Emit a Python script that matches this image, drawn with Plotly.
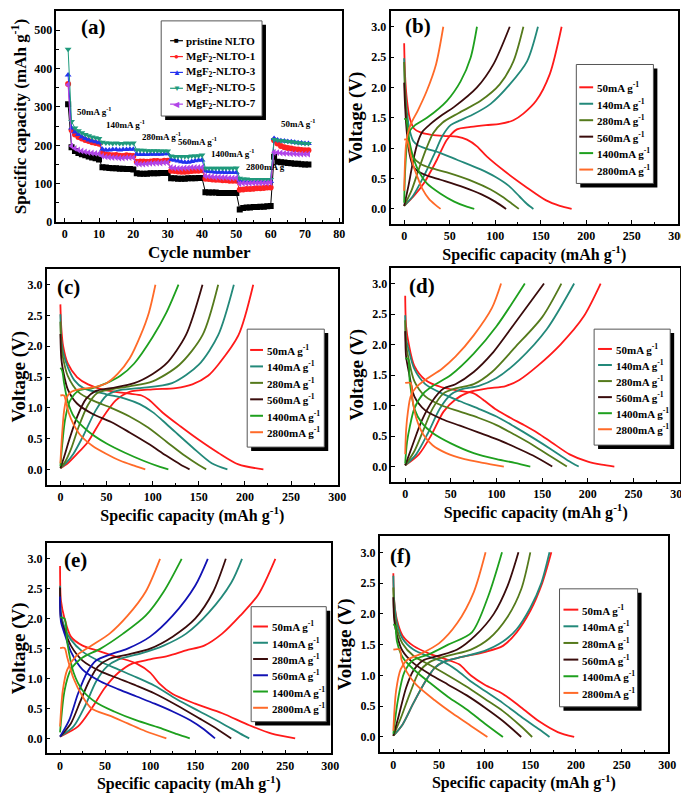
import plotly.graph_objects as go

W, H = 689, 794
SERIF = "Liberation Serif"

# ---------- panel (a): rate capability ----------
cycles = list(range(1, 72))
cap_pristine = [307,
                195, 185, 180, 177, 174, 171, 168, 166, 163,
                143, 142, 141, 140, 140, 139, 139, 138, 138, 137,
                127, 126, 126, 126, 127, 127, 127, 128, 128, 128,
                114, 114, 113, 113, 113, 114, 114, 114, 115, 115,
                78, 77, 77, 77, 76, 76, 76, 76, 76, 76,
                33, 37, 38, 38, 39, 39, 40, 40, 41, 42,
                170, 157, 156, 155, 154, 153, 152, 152, 151, 150, 150]
cap_mgf1 = [360,
            240, 228, 222, 218, 214, 211, 208, 206, 204,
            180, 176, 175, 174, 175, 173, 172, 174, 173, 172,
            157, 158, 158, 157, 158, 159, 159, 158, 160, 160,
            134, 133, 132, 131, 131, 132, 133, 134, 134, 135,
            113, 112, 111, 110, 110, 109, 109, 108, 108, 108,
            84, 85, 86, 86, 87, 88, 88, 89, 90, 90,
            213, 205, 198, 195, 193, 192, 190, 189, 188, 187, 187]
cap_mgf3 = [383,
            245, 235, 228, 222, 218, 214, 211, 209, 207,
            190, 188, 188, 189, 189, 188, 189, 189, 190, 190,
            177, 176, 176, 176, 177, 177, 177, 177, 178, 178,
            163, 161, 159, 157, 156, 156, 158, 160, 161, 162,
            133, 132, 131, 130, 130, 130, 129, 129, 129, 129,
            108, 106, 105, 105, 105, 105, 105, 105, 105, 106,
            218, 214, 212, 211, 210, 209, 208, 207, 206, 205, 205]
cap_mgf5 = [450,
            262, 245, 238, 233, 228, 225, 222, 220, 218,
            208, 206, 206, 205, 206, 205, 205, 206, 205, 206,
            188, 187, 187, 186, 186, 186, 186, 185, 185, 185,
            172, 171, 171, 171, 171, 171, 172, 172, 173, 175,
            140, 140, 140, 140, 140, 140, 140, 140, 140, 141,
            114, 112, 112, 111, 111, 111, 111, 111, 111, 111,
            215, 213, 212, 211, 210, 209, 208, 207, 206, 205, 205]
cap_mgf7 = [358,
            198, 192, 188, 185, 183, 181, 180, 179, 178,
            172, 170, 169, 168, 168, 167, 167, 168, 168, 168,
            152, 151, 151, 152, 153, 153, 154, 154, 155, 155,
            142, 141, 140, 140, 141, 141, 142, 142, 142, 142,
            120, 119, 118, 117, 117, 116, 116, 115, 115, 115,
            100, 101, 101, 101, 102, 102, 102, 102, 102, 103,
            182, 181, 180, 179, 179, 178, 178, 177, 177, 177, 177]
series_a = ["pristine NLTO", "MgF<sub>2</sub>-NLTO-1", "MgF<sub>2</sub>-NLTO-3",
            "MgF<sub>2</sub>-NLTO-5", "MgF<sub>2</sub>-NLTO-7"]
rate_labels_a = ["50mA g<sup>-1</sup>", "140mA g<sup>-1</sup>", "280mA g<sup>-1</sup>",
                 "560mA g<sup>-1</sup>", "1400mA g<sup>-1</sup>", "2800mA g<sup>-1</sup>",
                 "50mA g<sup>-1</sup>"]

# ---------- panels (b)-(f): voltage profiles (cap, V) ----------
rates = ["50", "140", "280", "560", "1400", "2800"]

b_dis = {
    "50": ([0, 1, 3, 6, 11, 18, 30, 45, 58, 69, 80, 91, 113, 135, 156, 171, 184],
           [2.73, 2.2, 1.8, 1.5, 1.32, 1.26, 1.22, 1.2, 1.19, 1.14, 1.03, 0.86, 0.59, 0.35, 0.14, 0.05, 0]),
    "140": ([0, 1, 3, 6, 10, 15, 25, 40, 58, 84, 100, 115, 127, 135, 142],
            [2.48, 2.0, 1.6, 1.3, 1.12, 1.05, 0.99, 0.92, 0.81, 0.65, 0.53, 0.38, 0.2, 0.08, 0]),
    "280": ([0, 1, 3, 6, 10, 18, 30, 47, 76, 95, 108, 118, 126],
            [2.42, 1.9, 1.4, 1.05, 0.85, 0.74, 0.67, 0.6, 0.45, 0.32, 0.2, 0.09, 0]),
    "560": ([0, 1, 3, 6, 10, 15, 25, 40, 65, 85, 100, 112],
            [2.08, 1.7, 1.25, 0.9, 0.7, 0.62, 0.55, 0.48, 0.36, 0.24, 0.12, 0]),
    "1400": ([0, 2, 4, 6, 9, 15, 25, 40, 55, 68, 77],
             [1.48, 1.48, 1.3, 1.1, 0.9, 0.65, 0.42, 0.25, 0.12, 0.04, 0]),
    "2800": ([0, 3, 5, 7, 10, 14, 20, 27, 34, 40],
             [1.14, 1.14, 1.05, 0.9, 0.72, 0.55, 0.33, 0.17, 0.07, 0]),
}
b_chg = {
    "50": ([0, 10, 22, 36, 47, 58, 73, 90, 105, 120, 131, 145, 160, 173],
           [0.05, 0.2, 0.43, 0.81, 1.14, 1.31, 1.35, 1.38, 1.4, 1.46, 1.57, 1.78, 2.22, 3.0]),
    "140": ([0, 10, 22, 33, 42, 51, 60, 75, 95, 116, 135, 147],
            [0.05, 0.22, 0.55, 0.9, 1.2, 1.38, 1.45, 1.55, 1.73, 2.05, 2.43, 3.0]),
    "280": ([0, 8, 16, 24, 32, 42, 60, 84, 105, 120, 131],
            [0.05, 0.3, 0.65, 0.98, 1.25, 1.42, 1.58, 1.78, 2.05, 2.43, 3.0]),
    "560": ([0, 5, 10, 15, 20, 29, 42, 55, 80, 98, 116],
            [0.05, 0.4, 0.8, 1.1, 1.27, 1.4, 1.55, 1.68, 2.0, 2.38, 3.0]),
    "1400": ([0, 1, 3, 6, 12, 25, 47, 62, 73, 80],
             [0.1, 0.6, 1.05, 1.28, 1.38, 1.5, 1.78, 2.1, 2.49, 3.0]),
    "2800": ([0, 1, 2, 4, 8, 15, 25, 35, 43],
             [0.3, 0.8, 1.05, 1.24, 1.42, 1.62, 1.95, 2.38, 3.0]),
}

c_dis = {
    "50": ([0, 1, 3, 8, 18, 30, 45, 60, 75, 88, 96, 111, 130, 150, 171, 193, 220],
           [2.68, 2.3, 2.0, 1.72, 1.5, 1.38, 1.3, 1.26, 1.23, 1.2, 1.13, 0.92, 0.7, 0.48, 0.27, 0.08, 0]),
    "140": ([0, 1, 3, 8, 15, 25, 50, 70, 86, 100, 111, 125, 143, 164, 181],
            [2.52, 2.1, 1.9, 1.66, 1.45, 1.32, 1.22, 1.15, 1.06, 0.93, 0.79, 0.6, 0.36, 0.1, 0]),
    "280": ([0, 1, 3, 8, 20, 35, 55, 75, 95, 115, 135, 150, 158],
            [2.4, 2.0, 1.8, 1.52, 1.25, 1.12, 1.0, 0.86, 0.68, 0.45, 0.22, 0.07, 0]),
    "560": ([0, 1, 3, 8, 18, 35, 55, 75, 95, 115, 130, 140],
            [2.2, 1.8, 1.6, 1.3, 1.07, 0.9, 0.77, 0.6, 0.42, 0.22, 0.08, 0]),
    "1400": ([0, 2, 4, 8, 15, 30, 50, 70, 90, 108, 117],
             [1.65, 1.6, 1.4, 1.1, 0.85, 0.62, 0.42, 0.27, 0.14, 0.04, 0]),
    "2800": ([0, 4, 6, 9, 14, 22, 35, 50, 65, 80, 92],
             [1.2, 1.2, 1.1, 0.92, 0.74, 0.55, 0.38, 0.25, 0.14, 0.06, 0]),
}
c_chg = {
    "50": ([0, 8, 18, 30, 45, 60, 75, 100, 125, 143, 160, 171, 193, 209],
           [0.02, 0.1, 0.25, 0.45, 0.82, 1.12, 1.26, 1.3, 1.32, 1.38, 1.52, 1.7, 2.18, 3.0]),
    "140": ([0, 6, 14, 25, 38, 50, 62, 85, 121, 150, 171, 188],
            [0.02, 0.1, 0.25, 0.55, 0.95, 1.2, 1.28, 1.32, 1.4, 1.7, 2.18, 3.0]),
    "280": ([0, 5, 12, 20, 30, 40, 55, 75, 100, 129, 154, 171],
            [0.02, 0.12, 0.35, 0.7, 1.05, 1.24, 1.3, 1.35, 1.43, 1.7, 2.18, 3.0]),
    "560": ([0, 4, 10, 18, 28, 38, 55, 80, 100, 115, 136, 154],
            [0.02, 0.2, 0.5, 0.85, 1.15, 1.27, 1.32, 1.4, 1.55, 1.72, 2.18, 3.0]),
    "1400": ([0, 2, 5, 10, 20, 35, 50, 65, 80, 100, 115, 128],
             [0.05, 0.4, 0.8, 1.1, 1.28, 1.32, 1.4, 1.52, 1.72, 2.15, 2.55, 3.0]),
    "2800": ([0, 2, 4, 7, 12, 20, 35, 50, 62, 75, 87, 96, 103],
             [0.1, 0.6, 0.95, 1.17, 1.26, 1.3, 1.33, 1.4, 1.55, 1.8, 2.18, 2.55, 3.0]),
}

d_dis = {
    "50": ([0, 1, 4, 10, 22, 40, 60, 75, 85, 100, 115, 130, 145, 160, 180, 200, 215, 229],
           [2.8, 2.3, 2.0, 1.65, 1.42, 1.3, 1.24, 1.2, 1.1, 0.93, 0.8, 0.68, 0.55, 0.4, 0.2, 0.08, 0.03, 0]),
    "140": ([0, 1, 4, 10, 22, 40, 60, 80, 100, 120, 140, 160, 178, 190],
            [2.48, 2.1, 1.9, 1.6, 1.35, 1.2, 1.07, 0.95, 0.82, 0.65, 0.47, 0.28, 0.1, 0]),
    "280": ([0, 1, 4, 10, 22, 40, 60, 80, 100, 120, 140, 160, 177],
            [2.4, 2.0, 1.75, 1.4, 1.15, 1.0, 0.9, 0.8, 0.68, 0.52, 0.35, 0.16, 0]),
    "560": ([0, 1, 4, 10, 22, 40, 60, 80, 100, 120, 140, 161],
            [2.22, 1.8, 1.55, 1.15, 0.92, 0.78, 0.67, 0.56, 0.45, 0.32, 0.18, 0]),
    "1400": ([0, 3, 5, 10, 18, 30, 50, 75, 100, 120, 137],
             [1.77, 1.77, 1.4, 0.95, 0.72, 0.55, 0.38, 0.22, 0.12, 0.06, 0]),
    "2800": ([0, 6, 8, 12, 20, 30, 45, 65, 85, 108],
             [1.37, 1.37, 1.1, 0.8, 0.52, 0.35, 0.22, 0.12, 0.06, 0]),
}
d_chg = {
    "50": ([0, 15, 28, 42, 55, 70, 90, 110, 125, 145, 170, 195, 214],
           [0.02, 0.2, 0.5, 0.9, 1.1, 1.22, 1.28, 1.32, 1.42, 1.65, 2.0, 2.45, 3.0]),
    "140": ([0, 12, 25, 38, 50, 62, 80, 100, 125, 155, 185],
            [0.02, 0.2, 0.55, 0.95, 1.18, 1.27, 1.32, 1.45, 1.75, 2.25, 3.0]),
    "280": ([0, 10, 20, 30, 42, 55, 75, 95, 120, 150, 171],
            [0.02, 0.25, 0.6, 0.95, 1.2, 1.28, 1.35, 1.55, 1.95, 2.45, 3.0]),
    "560": ([0, 8, 18, 30, 42, 55, 75, 95, 120, 152],
            [0.02, 0.35, 0.75, 1.08, 1.28, 1.35, 1.55, 1.85, 2.35, 3.0]),
    "1400": ([0, 2, 5, 10, 20, 30, 50, 75, 100, 131],
             [0.05, 0.4, 0.65, 0.95, 1.2, 1.32, 1.5, 1.85, 2.3, 3.0]),
    "2800": ([0, 1, 3, 6, 12, 25, 40, 55, 75, 95, 105],
             [0.2, 0.6, 0.9, 1.15, 1.3, 1.45, 1.6, 1.8, 2.15, 2.6, 3.0]),
}

e_dis = {
    "50": ([0, 1, 5, 12, 25, 45, 65, 85, 100, 110, 125, 150, 180, 210, 235, 261],
           [2.88, 2.3, 2.0, 1.7, 1.55, 1.45, 1.35, 1.25, 1.1, 0.92, 0.74, 0.58, 0.42, 0.22, 0.08, 0]),
    "140": ([0, 1, 5, 12, 25, 45, 65, 85, 105, 130, 155, 180, 200, 210],
            [2.55, 2.1, 1.85, 1.65, 1.45, 1.28, 1.15, 1.02, 0.88, 0.65, 0.45, 0.25, 0.08, 0]),
    "280": ([0, 1, 5, 12, 25, 45, 65, 85, 105, 130, 155, 175, 190],
            [2.52, 2.0, 1.8, 1.55, 1.3, 1.12, 1.0, 0.88, 0.75, 0.55, 0.33, 0.15, 0]),
    "560": ([0, 1, 5, 12, 25, 45, 65, 85, 105, 125, 145, 160, 172],
            [2.37, 1.95, 1.75, 1.45, 1.15, 0.95, 0.82, 0.7, 0.58, 0.45, 0.3, 0.15, 0]),
    "1400": ([0, 5, 8, 15, 25, 40, 60, 85, 110, 130, 144],
             [2.02, 2.0, 1.6, 1.1, 0.8, 0.6, 0.45, 0.3, 0.18, 0.07, 0]),
    "2800": ([0, 5, 8, 15, 25, 35, 55, 75, 95, 118],
             [1.51, 1.51, 1.35, 1.0, 0.7, 0.5, 0.38, 0.25, 0.12, 0]),
}
e_chg = {
    "50": ([0, 20, 35, 50, 65, 80, 100, 120, 140, 160, 180, 200, 220, 239],
           [0.03, 0.2, 0.5, 0.85, 1.1, 1.25, 1.32, 1.38, 1.47, 1.55, 1.75, 2.05, 2.4, 3.0]),
    "140": ([0, 15, 28, 40, 52, 65, 90, 115, 140, 165, 190, 202],
            [0.03, 0.2, 0.55, 0.95, 1.2, 1.32, 1.42, 1.55, 1.75, 2.1, 2.6, 3.0]),
    "280": ([0, 12, 22, 32, 42, 55, 75, 100, 125, 150, 170, 184],
            [0.03, 0.25, 0.6, 0.95, 1.2, 1.33, 1.4, 1.5, 1.7, 2.0, 2.45, 3.0]),
    "560": ([0, 10, 20, 30, 40, 55, 75, 100, 125, 150, 164],
            [0.03, 0.3, 0.75, 1.1, 1.3, 1.4, 1.5, 1.7, 2.05, 2.55, 3.0]),
    "1400": ([0, 5, 12, 25, 45, 70, 95, 115, 135],
             [0.1, 0.8, 1.15, 1.35, 1.5, 1.75, 2.05, 2.45, 3.0]),
    "2800": ([0, 3, 8, 18, 35, 55, 75, 95, 111],
             [0.2, 0.8, 1.15, 1.38, 1.55, 1.75, 2.05, 2.45, 3.0]),
}

f_dis = {
    "50": ([0, 1, 4, 10, 22, 40, 60, 72, 85, 100, 120, 140, 160, 180, 198],
           [2.66, 2.2, 1.9, 1.65, 1.48, 1.35, 1.25, 1.18, 1.0, 0.85, 0.7, 0.48, 0.25, 0.08, 0]),
    "140": ([0, 1, 4, 10, 22, 40, 55, 70, 85, 100, 120, 140, 160, 171],
            [2.62, 2.2, 1.85, 1.6, 1.42, 1.3, 1.22, 1.08, 0.9, 0.75, 0.55, 0.33, 0.12, 0]),
    "280": ([0, 1, 4, 10, 22, 40, 60, 80, 100, 120, 140, 152],
            [2.43, 2.0, 1.75, 1.52, 1.32, 1.17, 1.0, 0.82, 0.62, 0.42, 0.17, 0]),
    "560": ([0, 1, 4, 10, 22, 40, 60, 80, 100, 120, 140],
            [2.27, 1.9, 1.65, 1.4, 1.2, 1.02, 0.85, 0.68, 0.48, 0.26, 0]),
    "1400": ([0, 2, 4, 10, 22, 40, 60, 80, 100, 120],
             [1.83, 1.8, 1.55, 1.3, 1.1, 0.88, 0.65, 0.45, 0.22, 0]),
    "2800": ([0, 7, 9, 15, 25, 45, 65, 85, 103],
             [1.42, 1.42, 1.25, 1.05, 0.85, 0.6, 0.38, 0.18, 0]),
}
f_chg = {
    "50": ([0, 10, 22, 35, 45, 55, 75, 100, 120, 135, 150, 163, 173],
           [0.02, 0.2, 0.55, 0.9, 1.12, 1.22, 1.3, 1.38, 1.48, 1.7, 2.05, 2.5, 3.0]),
    "140": ([0, 10, 22, 35, 45, 55, 75, 100, 120, 135, 150, 162, 171],
            [0.02, 0.2, 0.55, 0.9, 1.12, 1.22, 1.3, 1.4, 1.55, 1.75, 2.1, 2.5, 3.0]),
    "280": ([0, 8, 18, 28, 40, 60, 85, 105, 125, 140, 150],
            [0.02, 0.3, 0.7, 1.05, 1.22, 1.32, 1.42, 1.6, 1.95, 2.4, 3.0]),
    "560": ([0, 6, 14, 22, 32, 50, 70, 90, 110, 125, 137],
            [0.02, 0.35, 0.8, 1.08, 1.24, 1.32, 1.42, 1.65, 2.0, 2.45, 3.0]),
    "1400": ([0, 5, 12, 22, 40, 60, 86, 104, 119],
             [0.05, 0.6, 1.05, 1.25, 1.35, 1.5, 1.7, 2.29, 3.0]),
    "2800": ([0, 3, 8, 15, 30, 50, 70, 88, 101],
             [0.1, 0.75, 1.1, 1.25, 1.35, 1.52, 1.85, 2.35, 3.0]),
}

# ---------- styling ----------
colors_std = ["#ff1a1a", "#23897a", "#557a1c", "#3a0c0c", "#1ea01e", "#ff6a28"]
colors_e = ["#ff1a1a", "#23897a", "#3a0c0c", "#1212b4", "#1ea01e", "#ff6a28"]
colors_a = ["#000000", "#ff2222", "#2233ee", "#1f9a7c", "#b044e8"]
symbols_a = ["square", "circle", "triangle-up", "triangle-down", "triangle-left"]
glyphs_a = ["■", "●", "▲", "▼", "◀"]


def px(x):
    return x / W


def py(y):
    return 1 - y / H


fig = go.Figure()

# panel (a)
for name, vals, col, sym in zip(series_a, [cap_pristine, cap_mgf1, cap_mgf3, cap_mgf5, cap_mgf7],
                                colors_a, symbols_a):
    fig.add_trace(go.Scatter(x=cycles, y=vals, mode="lines+markers", name=name,
                             line=dict(color=col, width=1),
                             marker=dict(symbol=sym, size=6, color=col),
                             xaxis="x", yaxis="y", showlegend=False))

panels = [
    ("b", "2", b_dis, b_chg, colors_std),
    ("c", "3", c_dis, c_chg, colors_std),
    ("d", "4", d_dis, d_chg, colors_std),
    ("e", "5", e_dis, e_chg, colors_e),
    ("f", "6", f_dis, f_chg, colors_std),
]
for key, ax, dis, chg, cols in panels:
    for r, col in zip(rates, cols):
        for curve in (dis[r], chg[r]):
            fig.add_trace(go.Scatter(x=curve[0], y=curve[1], mode="lines",
                                     line=dict(color=col, width=1.8, shape="spline", smoothing=0.8),
                                     xaxis="x" + ax, yaxis="y" + ax, showlegend=False,
                                     hoverinfo="skip"))

# ---------- axes ----------
tickfont = dict(family=SERIF, size=12, color="black", weight="bold")


def axis(dom, rng, dtick, minor, anchor, title, tsize, standoff, fmt=None):
    a = dict(domain=dom, range=rng, dtick=dtick, anchor=anchor,
             showline=True, linecolor="black", linewidth=1.5, mirror=True,
             ticks="inside", ticklen=4, tickwidth=1.2, tickcolor="black",
             showgrid=False, zeroline=False, tickfont=tickfont,
             title=dict(text=title, font=dict(family=SERIF, size=tsize, color="black"),
                        standoff=standoff))
    if fmt:
        a["tickformat"] = fmt
    if minor:
        a["minor"] = dict(ticks="inside", ticklen=2.5, tickcolor="black", dtick=minor)
    return a


# pixel boxes of the plot areas: (x0, x1, ytop, ybottom)
boxes = {"1": (49, 338, 3, 216), "2": (387, 678, 3, 218), "3": (39, 334, 263, 481),
         "4": (388, 680, 262, 478), "5": (39, 327, 540, 752), "6": (376, 668, 533, 751)}

xt = "<b>Specific capacity (mAh g<sup>-1</sup>)</b>"
yt = "<b>Voltage (V)</b>"
layout_axes = {}
for ax, (x0, x1, yt0, yb) in boxes.items():
    sfx = "" if ax == "1" else ax
    xd = [px(x0), px(x1)]
    yd = [py(yb), py(yt0)]
    if ax == "1":
        layout_axes["xaxis"] = axis(xd, [-2.4, 80.8], 10, 5, "y", "<b>Cycle number</b>", 17, 6)
        layout_axes["yaxis"] = axis(yd, [0, 550], 100, 50, "x",
                                    "<b>Specific capacity (mAh g<sup>-1</sup>)</b>", 17, 4)
    else:
        layout_axes["xaxis" + sfx] = axis(xd, [-15, 301], 50, 25, "y" + sfx, xt, 16, 4)
        layout_axes["yaxis" + sfx] = axis(yd, [-0.25, 3.26], 0.5, None, "x" + sfx, yt, 19, 4,
                                          fmt=".1f")

fig.update_layout(**layout_axes)

shapes = []
annotations = []


def text(x, y, s, size, xanchor="left", color="black", xref="paper", yref="paper"):
    annotations.append(dict(x=x, y=y, xref=xref, yref=yref, text=s, showarrow=False,
                            xanchor=xanchor, yanchor="middle",
                            font=dict(family=SERIF, size=size, color=color)))


def legend_box(x0, y0, x1, y1):
    shapes.append(dict(type="rect", xref="paper", yref="paper", x0=px(x0 + 4), x1=px(x1 + 4),
                       y0=py(y1 + 4), y1=py(y0 + 4), fillcolor="black", line=dict(width=0),
                       layer="above"))
    shapes.append(dict(type="rect", xref="paper", yref="paper", x0=px(x0), x1=px(x1),
                       y0=py(y1), y1=py(y0), fillcolor="white",
                       line=dict(color="#555555", width=1), layer="above"))


# legend (a)
legend_box(155, 13, 257, 109)
for i, (name, col, g) in enumerate(zip(series_a, colors_a, glyphs_a)):
    yy = 33 + i * 16
    shapes.append(dict(type="line", xref="paper", yref="paper", x0=px(164), x1=px(177),
                       y0=py(yy), y1=py(yy), line=dict(color=col, width=1.2), layer="above"))
    text(px(170.5), py(yy), g, 8, xanchor="center", color=col)
    text(px(178), py(yy), "<b>" + name + "</b>", 11)

# legends (b)-(f): (box, first row y, row step, sample x0, sample x1)
leg_geo = {
    "2": ((575, 57, 653, 177), 80, 16.6, 578, 592),
    "3": ((242, 324, 320, 443), 345, 16.6, 245, 258),
    "4": ((593, 324, 670, 441), 344, 16.2, 597, 611),
    "5": ((246, 604, 322, 720), 624, 16.4, 248, 263),
    "6": ((558, 586, 637, 705), 607, 16.8, 562, 577),
}
for key, ax, dis, chg, cols in panels:
    (bx0, by0, bx1, by1), ry, step, sx0, sx1 = leg_geo[ax]
    legend_box(bx0, by0, bx1, by1)
    for i, (r, col) in enumerate(zip(rates, cols)):
        yy = ry + i * step
        shapes.append(dict(type="line", xref="paper", yref="paper", x0=px(sx0), x1=px(sx1),
                           y0=py(yy), y1=py(yy), line=dict(color=col, width=2), layer="above"))
        text(px(sx1 + 2), py(yy), "<b>" + r + "mA g<sup>-1</sup></b>", 11)

# panel labels
for lab, (xx, yy) in zip(["(a)", "(b)", "(c)", "(d)", "(e)", "(f)"],
                         [(72, 19), (400, 18), (48, 281), (404, 280), (55, 557), (384, 553)]):
    text(px(xx), py(yy), "<b>" + lab + "</b>", 21)

# rate annotations in (a)
for lab, (cx, cy) in zip(rate_labels_a, [(3.1, 289), (11.5, 255), (22, 225), (32.3, 212),
                                         (42, 180), (52.2, 145), (62.3, 259)]):
    text(cx, cy, "<b>" + lab + "</b>", 9, xref="x", yref="y")

fig.update_layout(width=W, height=H, autosize=False, margin=dict(l=0, r=0, t=0, b=0),
                  paper_bgcolor="white", plot_bgcolor="white", showlegend=False,
                  shapes=shapes, annotations=annotations,
                  font=dict(family=SERIF, color="black"))

fig.write_html("out.html")
